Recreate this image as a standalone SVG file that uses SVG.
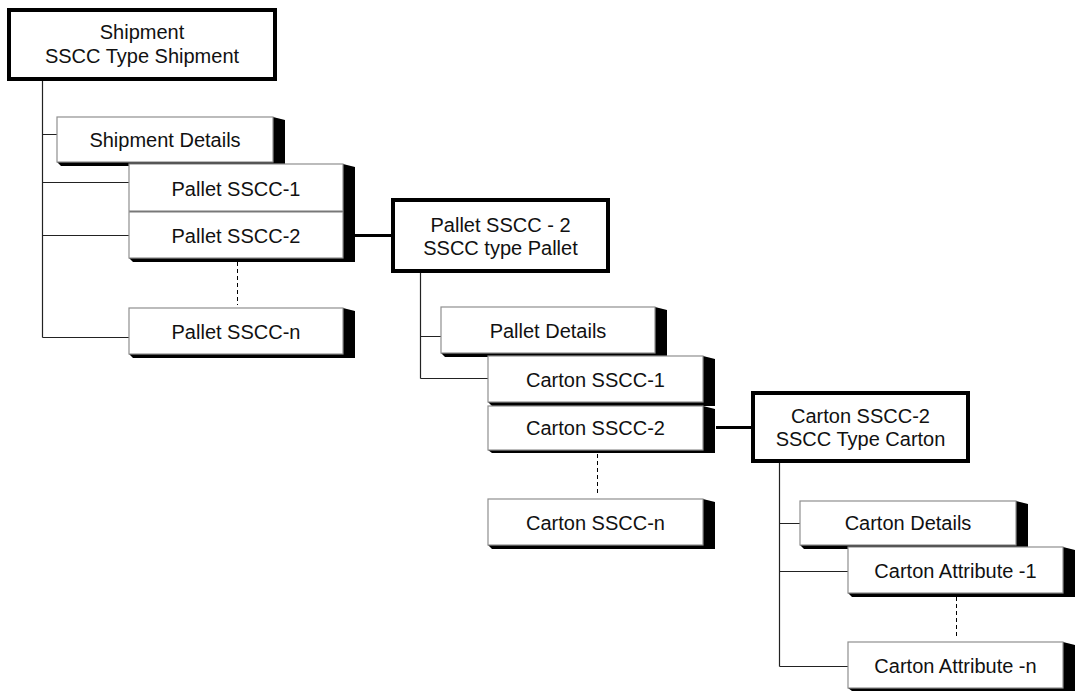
<svg xmlns="http://www.w3.org/2000/svg" width="1081" height="693" viewBox="0 0 1081 693">
<style>
.bg{fill:#ffffff}
.face{fill:#ffffff;stroke:#8f8f8f;stroke-width:1.2}
.side{fill:#000000}
.thick{fill:#ffffff;stroke:#000000;stroke-width:4}
.t{font-family:"Liberation Sans",Arial,sans-serif;font-size:20px;fill:#111111;text-anchor:middle}
.c{stroke:#222222;stroke-width:1.2;fill:none}
.ct{stroke:#000000;stroke-width:3;fill:none}
.d{stroke:#000000;stroke-width:1;stroke-dasharray:4 3;fill:none}
</style>
<rect class="bg" x="0" y="0" width="1081" height="693"/>
<g id="connectors">
<path class="c" d="M42.5,81 V337.5 M42.5,134.5 H57 M42.5,182.5 H129 M42.5,235.5 H129 M42.5,337.5 H129"/>
<path class="d" d="M237.5,262 V305"/>
<path class="ct" d="M355,235.5 H391"/>
<path class="c" d="M420.5,273 V378.5 M420.5,336.5 H441 M420.5,378.5 H488"/>
<path class="d" d="M597.5,454 V496"/>
<path class="ct" d="M716,427.5 H751"/>
<path class="c" d="M779.5,463 V666.5 M779.5,523.5 H800 M779.5,571.5 H848 M779.5,666.5 H848"/>
<path class="d" d="M956.5,597 V638"/>
</g>
<g id="shipment">
<rect class="thick" x="9" y="10" width="266" height="69"/>
<text class="t" x="142" y="39">Shipment</text>
<text class="t" x="142" y="63">SSCC Type Shipment</text>
</g>
<g id="shipment-details">
<polygon class="side" points="273,117 285,120 285,166 61,166 57,162 273,162"/>
<rect class="face" x="57" y="117" width="216" height="45"/>
<text class="t" x="165" y="147">Shipment Details</text>
</g>
<g id="pallet-sscc-1">
<polygon class="side" points="343,164 355,167 355,215 133,215 129,211 343,211"/>
<rect class="face" x="129" y="164" width="214" height="47"/>
<text class="t" x="236" y="195.5">Pallet SSCC-1</text>
</g>
<g id="pallet-sscc-2">
<polygon class="side" points="343,212 355,215 355,262 133,262 129,258 343,258"/>
<rect class="face" x="129" y="212" width="214" height="46"/>
<text class="t" x="236" y="242.5">Pallet SSCC-2</text>
</g>
<g id="pallet-sscc-n">
<polygon class="side" points="343,308 355,311 355,358 133,358 129,354 343,354"/>
<rect class="face" x="129" y="308" width="214" height="46"/>
<text class="t" x="236" y="338.5">Pallet SSCC-n</text>
</g>
<g id="pallet-sscc-2-type">
<rect class="thick" x="393" y="200" width="215" height="71"/>
<text class="t" x="500.5" y="231.5">Pallet SSCC - 2</text>
<text class="t" x="500.5" y="255">SSCC type Pallet</text>
</g>
<g id="pallet-details">
<polygon class="side" points="655,307 667,310 667,357 445,357 441,353 655,353"/>
<rect class="face" x="441" y="307" width="214" height="46"/>
<text class="t" x="548" y="337.5">Pallet Details</text>
</g>
<g id="carton-sscc-1">
<polygon class="side" points="703,356 715,359 715,406 492,406 488,402 703,402"/>
<rect class="face" x="488" y="356" width="215" height="46"/>
<text class="t" x="595.5" y="386.5">Carton SSCC-1</text>
</g>
<g id="carton-sscc-2">
<polygon class="side" points="703,406 715,409 715,453 492,453 488,450 703,450"/>
<rect class="face" x="488" y="406" width="215" height="44"/>
<text class="t" x="595.5" y="434.5">Carton SSCC-2</text>
</g>
<g id="carton-sscc-n">
<polygon class="side" points="703,499 715,502 715,549 492,549 488,545 703,545"/>
<rect class="face" x="488" y="499" width="215" height="46"/>
<text class="t" x="595.5" y="529.5">Carton SSCC-n</text>
</g>
<g id="carton-sscc-2-type">
<rect class="thick" x="753" y="393" width="215" height="68"/>
<text class="t" x="860.5" y="423">Carton SSCC-2</text>
<text class="t" x="860.5" y="446">SSCC Type Carton</text>
</g>
<g id="carton-details">
<polygon class="side" points="1016,501 1028,504 1028,549 804,549 800,545 1016,545"/>
<rect class="face" x="800" y="501" width="216" height="44"/>
<text class="t" x="908" y="530">Carton Details</text>
</g>
<g id="carton-attribute-1">
<polygon class="side" points="1063,547 1075,550 1075,597 852,597 848,593 1063,593"/>
<rect class="face" x="848" y="547" width="215" height="46"/>
<text class="t" x="955.5" y="577.5">Carton Attribute -1</text>
</g>
<g id="carton-attribute-n">
<polygon class="side" points="1063,642 1075,645 1075,691 852,691 848,688 1063,688"/>
<rect class="face" x="848" y="642" width="215" height="46"/>
<text class="t" x="955.5" y="672.5">Carton Attribute -n</text>
</g>
</svg>
